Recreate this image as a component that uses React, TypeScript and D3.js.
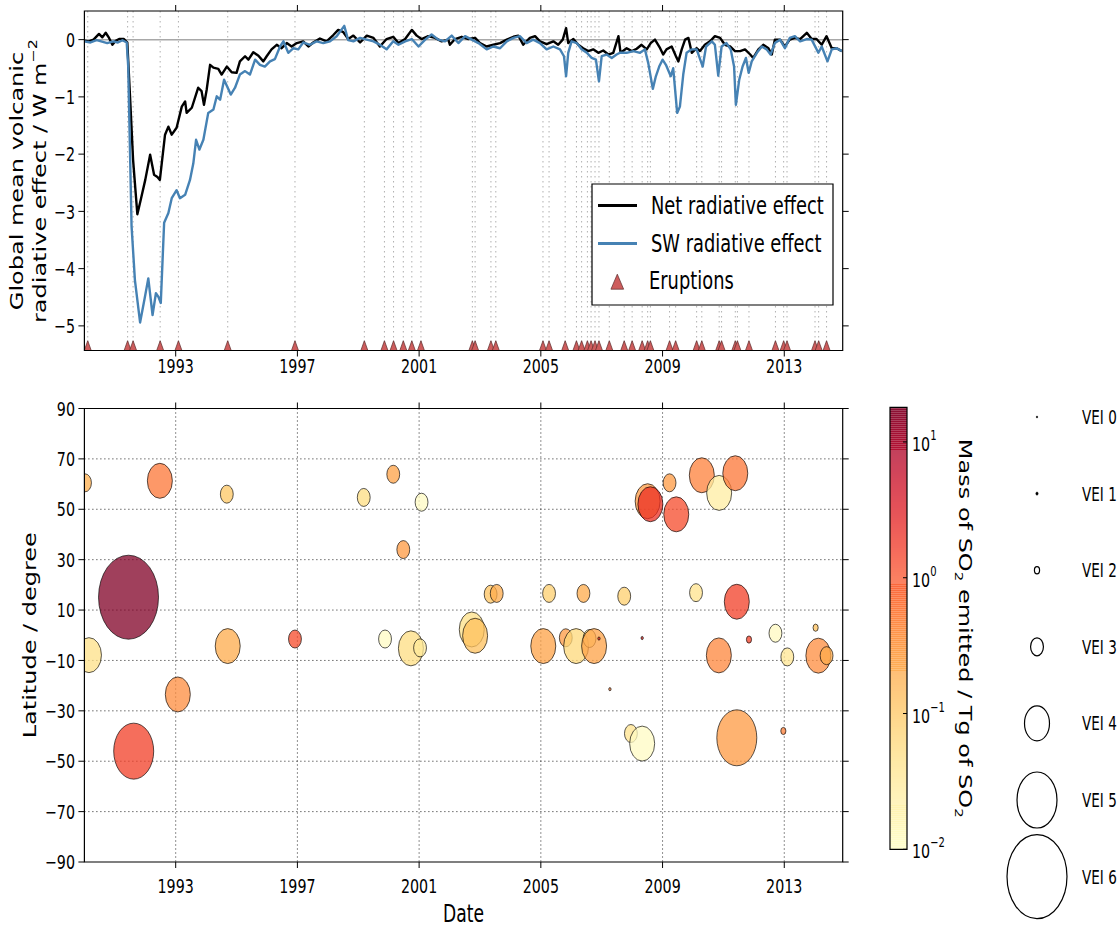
import React, { useEffect, useRef } from "react";
import * as d3 from "d3";

// the original figure is squeezed horizontally; draw in unsqueezed units
const SX = 0.714;
const vx = (x: number) => x / SX;
const FONT = "'DejaVu Sans', Verdana, sans-serif";

// global mean volcanic radiative effect, W m-2 : [decimal year, value]
const netEffect: [number, number][] = [
  [1990.0, -0.02], [1990.15, -0.03], [1990.3, 0.0], [1990.48, 0.1], [1990.59, 0.04], [1990.7, 0.12],
  [1990.81, 0.03], [1990.92, -0.09], [1991.03, -0.02], [1991.14, 0.01], [1991.3, 0.01], [1991.41, -0.05],
  [1991.5, -1.0], [1991.6, -2.1], [1991.74, -3.05], [1991.85, -2.8], [1992.0, -2.45], [1992.16, -2.01],
  [1992.29, -2.36], [1992.4, -2.4], [1992.48, -2.45], [1992.65, -1.66], [1992.76, -1.52], [1992.87, -1.66],
  [1993.03, -1.54], [1993.2, -1.17], [1993.31, -1.08], [1993.36, -1.28], [1993.53, -1.19], [1993.74, -0.84],
  [1993.85, -0.9], [1993.93, -1.14], [1994.02, -0.87], [1994.13, -0.44], [1994.24, -0.49], [1994.4, -0.51],
  [1994.51, -0.61], [1994.68, -0.47], [1994.84, -0.57], [1995.0, -0.58], [1995.11, -0.38], [1995.28, -0.29],
  [1995.39, -0.35], [1995.55, -0.22], [1995.72, -0.28], [1995.88, -0.38], [1995.99, -0.29], [1996.15, -0.17],
  [1996.32, -0.09], [1996.48, -0.15], [1996.65, -0.06], [1996.81, -0.12], [1996.98, -0.06], [1997.19, -0.03],
  [1997.36, -0.12], [1997.52, -0.05], [1997.74, 0.02], [1997.96, -0.03], [1998.18, 0.08], [1998.34, 0.17],
  [1998.51, 0.13], [1998.67, 0.01], [1998.84, 0.07], [1999.06, -0.05], [1999.28, 0.07], [1999.5, 0.03],
  [1999.71, -0.12], [1999.93, 0.01], [2000.15, 0.05], [2000.32, -0.06], [2000.54, 0.01], [2000.76, 0.17],
  [2000.92, 0.07], [2001.08, 0.01], [2001.3, 0.06], [2001.52, 0.03], [2001.74, -0.03], [2001.96, 0.0],
  [2002.01, -0.09], [2002.18, 0.01], [2002.4, 0.05], [2002.62, 0.01], [2002.84, 0.03], [2003.0, -0.06],
  [2003.22, -0.12], [2003.44, -0.09], [2003.66, -0.06], [2003.88, 0.0], [2004.1, 0.05], [2004.26, 0.07],
  [2004.42, -0.09], [2004.64, 0.03], [2004.81, 0.06], [2004.97, -0.03], [2005.19, -0.08], [2005.41, -0.03],
  [2005.57, -0.09], [2005.72, 0.0], [2005.83, 0.2], [2005.9, -0.06], [2006.07, 0.01], [2006.23, -0.09],
  [2006.39, -0.15], [2006.56, -0.2], [2006.72, -0.17], [2006.89, -0.23], [2007.05, -0.19], [2007.22, -0.26],
  [2007.38, -0.23], [2007.55, 0.06], [2007.62, -0.23], [2007.82, -0.15], [2007.99, -0.2], [2008.15, -0.16],
  [2008.31, -0.09], [2008.48, -0.17], [2008.61, -0.06], [2008.75, 0.0], [2008.92, -0.15], [2009.02, -0.26],
  [2009.13, -0.17], [2009.3, -0.12], [2009.44, -0.29], [2009.52, -0.38], [2009.63, -0.17], [2009.74, 0.0],
  [2009.85, 0.03], [2009.96, -0.23], [2010.12, -0.15], [2010.23, -0.2], [2010.39, -0.09], [2010.56, -0.03],
  [2010.72, 0.06], [2010.89, 0.03], [2011.05, -0.09], [2011.22, -0.12], [2011.38, -0.2], [2011.55, -0.2],
  [2011.71, -0.17], [2011.88, -0.26], [2011.98, -0.32], [2012.15, -0.17], [2012.31, -0.09], [2012.48, -0.15],
  [2012.59, -0.26], [2012.69, 0.0], [2012.86, 0.0], [2013.02, -0.12], [2013.18, 0.0], [2013.35, 0.03],
  [2013.52, 0.01], [2013.74, 0.12], [2013.9, 0.01], [2014.06, 0.01], [2014.23, -0.09], [2014.39, 0.06],
  [2014.56, -0.15], [2014.72, -0.15], [2014.89, -0.2],
];

const swEffect: [number, number][] = [
  [1990.0, -0.03], [1990.2, -0.05], [1990.4, -0.01], [1990.55, -0.03], [1990.75, -0.06], [1990.95, -0.03],
  [1991.1, -0.05], [1991.25, -0.01], [1991.39, -0.05], [1991.44, -0.47], [1991.55, -3.26], [1991.66, -4.2],
  [1991.83, -4.94], [1991.99, -4.49], [1992.1, -4.17], [1992.24, -4.81], [1992.35, -4.43], [1992.43, -4.49],
  [1992.51, -4.6], [1992.62, -3.2], [1992.76, -3.03], [1992.87, -2.77], [1993.03, -2.63], [1993.14, -2.77],
  [1993.31, -2.71], [1993.47, -2.45], [1993.58, -2.16], [1993.67, -1.75], [1993.78, -1.92], [1993.91, -1.75],
  [1994.07, -1.28], [1994.24, -1.22], [1994.35, -0.99], [1994.46, -1.05], [1994.59, -0.7], [1994.71, -0.84],
  [1994.81, -0.96], [1994.95, -0.84], [1995.11, -0.61], [1995.28, -0.55], [1995.44, -0.61], [1995.61, -0.35],
  [1995.77, -0.44], [1995.93, -0.47], [1996.1, -0.38], [1996.26, -0.34], [1996.43, -0.12], [1996.54, -0.03],
  [1996.7, -0.23], [1996.87, -0.15], [1997.03, -0.17], [1997.19, -0.05], [1997.41, -0.09], [1997.63, -0.03],
  [1997.85, -0.06], [1998.07, -0.03], [1998.29, 0.06], [1998.54, 0.24], [1998.67, -0.01], [1998.84, -0.03],
  [1999.06, 0.03], [1999.28, 0.0], [1999.5, -0.03], [1999.71, -0.09], [1999.93, -0.17], [2000.15, -0.03],
  [2000.32, -0.09], [2000.54, -0.03], [2000.76, 0.01], [2000.98, -0.12], [2001.2, 0.0], [2001.41, 0.09],
  [2001.63, 0.0], [2001.85, -0.03], [2002.07, 0.07], [2002.29, -0.06], [2002.51, 0.06], [2002.73, 0.0],
  [2002.95, -0.06], [2003.22, -0.17], [2003.44, -0.12], [2003.66, -0.15], [2003.88, -0.03], [2004.1, 0.03],
  [2004.31, 0.06], [2004.53, -0.06], [2004.75, 0.0], [2004.97, -0.06], [2005.19, -0.17], [2005.41, -0.12],
  [2005.63, -0.17], [2005.76, -0.29], [2005.83, -0.64], [2005.9, -0.23], [2006.01, -0.03], [2006.18, -0.06],
  [2006.34, -0.17], [2006.51, -0.23], [2006.67, -0.32], [2006.81, -0.35], [2006.91, -0.73], [2007.0, -0.29],
  [2007.16, -0.26], [2007.33, -0.32], [2007.49, -0.26], [2007.6, -0.23], [2007.82, -0.23], [2008.04, -0.2],
  [2008.26, -0.23], [2008.42, -0.17], [2008.53, -0.41], [2008.68, -0.86], [2008.78, -0.64], [2008.89, -0.47],
  [2009.0, -0.35], [2009.11, -0.44], [2009.27, -0.64], [2009.35, -0.5], [2009.48, -1.28], [2009.57, -1.17],
  [2009.68, -0.61], [2009.79, -0.23], [2009.96, -0.17], [2010.12, -0.17], [2010.32, -0.47], [2010.43, -0.12],
  [2010.62, -0.03], [2010.72, -0.09], [2010.83, -0.63], [2010.94, -0.12], [2011.1, -0.06], [2011.24, -0.17],
  [2011.35, -0.47], [2011.41, -1.14], [2011.52, -0.7], [2011.63, -0.47], [2011.74, -0.32], [2011.83, -0.58],
  [2011.93, -0.38], [2012.1, -0.23], [2012.26, -0.12], [2012.42, -0.17], [2012.55, -0.26], [2012.69, -0.06],
  [2012.86, 0.0], [2013.02, -0.15], [2013.18, 0.03], [2013.35, 0.06], [2013.52, -0.03], [2013.74, 0.01],
  [2013.9, 0.0], [2014.12, -0.23], [2014.23, -0.12], [2014.42, -0.38], [2014.56, -0.17], [2014.72, -0.15],
  [2014.89, -0.2],
];

// eruption dates (triangles and dotted lines in the top panel)
const eruptionDates = [
  1990.11, 1991.42, 1991.6, 1992.49, 1993.09, 1994.71, 1996.92, 1999.2, 1999.86, 2000.16, 2000.48,
  2000.76, 2001.06, 2002.75, 2002.84, 2003.36, 2003.52, 2005.07, 2005.27, 2005.8, 2006.17, 2006.34,
  2006.53, 2006.65, 2006.78, 2006.91, 2007.25, 2007.74, 2008.0, 2008.33, 2008.51, 2008.6, 2009.23,
  2009.43, 2010.12, 2010.29, 2010.86, 2010.94, 2011.39, 2011.46, 2011.84, 2012.71, 2012.98, 2013.09,
  2014.01, 2014.13, 2014.39,
];

// eruptions in the lower panel
const volcYear = [
  1990.02, 1990.15, 1991.45, 1991.62, 1992.48, 1993.07, 1994.68, 1994.71, 1996.92, 1999.18, 1999.88,
  2000.15, 2000.48, 2000.73, 2001.08, 2001.03, 2002.73, 2002.84, 2003.35, 2003.55, 2005.08, 2005.27,
  2005.82, 2006.16, 2006.4, 2006.6, 2006.75, 2006.91, 2007.27, 2007.74, 2007.96, 2008.33, 2008.33,
  2008.51, 2008.6, 2009.23, 2009.45, 2010.1, 2010.29, 2010.85, 2010.86, 2011.39, 2011.44, 2011.44,
  2011.84, 2012.71, 2012.97, 2013.1, 2014.03, 2014.12, 2014.39,
];
const volcLat = [
  60.5, -7.9, 15.1, -46, 61.3, -23.5, 56, -4.3, -1.5, 54.7, -1.5,
  63.9, 34, -5.2, 52.8, -5, 2.3, -0.2, 16.3, 16.6, -4.3, 16.6,
  -1, -4.3, 16.6, -1.3, -4.3, -1.3, -21.4, 15.5, -39, -43, -1.1,
  53.2, 52, 60.5, 48, 16.9, 63.5, -8, 56.5, 64.3, 13.3, -40.7,
  -1.7, 0.8, -38, -8.6, 3, -8.1, -8.1,
];
const volcVEI = [
  3, 4, 6, 5, 4, 4, 3, 4, 3, 3, 3,
  3, 3, 4, 3, 3, 4, 4, 3, 3, 4, 3,
  3, 4, 3, 3, 4, 1, 1, 3, 3, 4, 1,
  4, 4, 3, 4, 3, 4, 4, 4, 4, 4, 5,
  2, 3, 2, 3, 2, 4, 3,
];
// Tg of SO2
const volcSO2 = [
  0.18, 0.045, 18, 1.5, 0.6, 0.4, 0.1, 0.2, 1.2, 0.05, 0.012,
  0.25, 0.3, 0.05, 0.012, 0.03, 0.045, 0.12, 0.11, 0.2, 0.25, 0.08,
  0.3, 0.06, 0.2, 0.04, 0.25, 2, 0.5, 0.08, 0.04, 0.012, 2.5,
  0.3, 2, 0.3, 1.2, 0.04, 0.5, 0.45, 0.025, 0.6, 1.5, 0.3,
  1.5, 0.013, 0.5, 0.035, 0.12, 0.4, 0.2,
];

const yearTicks = [1993, 1997, 2001, 2005, 2009, 2013];
const forcingTicks = [0, -1, -2, -3, -4, -5];
const latTicks = [90, 70, 50, 30, 10, -10, -30, -50, -70, -90];
const so2Exponents = [-2, -1, 0, 1];
const veiClasses = [0, 1, 2, 3, 4, 5, 6];
const veiRadius = [1, 1.6, 3.6, 9, 17.5, 28, 42];

const fmt = (n: number) => (n < 0 ? "\u2212" + Math.abs(n) : String(n));

const App = () => {
  const svgRef = useRef<SVGSVGElement>(null);

  useEffect(() => {
    const svg = d3.select(svgRef.current);
    svg.selectAll("*").remove();

    const top = { left: 84.4, right: 842.7, top: 11, bottom: 350.5 };
    const bot = { left: 84.4, right: 842.7, top: 408.5, bottom: 862 };
    const cb = { left: 890, right: 907, top: 407.3, bottom: 849.3 };

    const x = d3.scaleLinear().domain([1990, 2014.92]).range([vx(top.left), vx(top.right)]);
    const yTop = d3.scaleLinear().domain([-5.43, 0.5]).range([top.bottom, top.top]);
    const yLat = d3.scaleLinear().domain([-90, 90]).range([bot.bottom, bot.top]);
    const ySO2 = d3.scaleLog().domain([0.01, 18]).range([cb.bottom, cb.top]);
    const tSO2 = d3.scaleLog().domain([0.01, 18]).range([0, 1]).clamp(true);
    const color = (v: number) => d3.interpolateYlOrRd(tSO2(v));

    const defs = svg.append("defs");
    [["clipTop", top], ["clipBot", bot]].forEach(([id, p]: any) => {
      defs.append("clipPath").attr("id", id).append("rect")
        .attr("x", vx(p.left)).attr("y", p.top)
        .attr("width", vx(p.right) - vx(p.left)).attr("height", p.bottom - p.top);
    });

    const g = svg.append("g").attr("transform", `scale(${SX},1)`).attr("font-family", FONT);
    const nss = (sel: any) => sel.attr("vector-effect", "non-scaling-stroke");

    const frame = (p: any) =>
      nss(g.append("rect").attr("x", vx(p.left)).attr("y", p.top)
        .attr("width", vx(p.right) - vx(p.left)).attr("height", p.bottom - p.top)
        .attr("fill", "none").attr("stroke", "#000").attr("stroke-width", 1.2));

    const ticks = (p: any, ys: any, yVals: number[], labelY: number) => {
      yearTicks.forEach((t) => {
        nss(g.append("line").attr("x1", x(t)).attr("x2", x(t)).attr("y1", p.top - 6).attr("y2", p.top)
          .attr("stroke", "#000"));
        nss(g.append("line").attr("x1", x(t)).attr("x2", x(t)).attr("y1", p.bottom).attr("y2", p.bottom + 6)
          .attr("stroke", "#000"));
        g.append("text").attr("x", x(t)).attr("y", labelY).attr("text-anchor", "middle")
          .attr("font-size", 20).text(String(t));
      });
      yVals.forEach((v) => {
        nss(g.append("line").attr("x1", vx(p.left - 6)).attr("x2", vx(p.left)).attr("y1", ys(v)).attr("y2", ys(v))
          .attr("stroke", "#000"));
        nss(g.append("line").attr("x1", vx(p.right)).attr("x2", vx(p.right + 6)).attr("y1", ys(v)).attr("y2", ys(v))
          .attr("stroke", "#000"));
        g.append("text").attr("x", vx(75)).attr("y", ys(v)).attr("dy", "0.36em").attr("text-anchor", "end")
          .attr("font-size", 20).text(fmt(v));
      });
    };

    // ---------- top panel ----------
    const gt = g.append("g").attr("clip-path", "url(#clipTop)");
    eruptionDates.forEach((d) => {
      nss(gt.append("line").attr("x1", x(d)).attr("x2", x(d)).attr("y1", top.top).attr("y2", top.bottom)
        .attr("stroke", "#b0b0b0").attr("stroke-width", 1).attr("stroke-dasharray", "1.5,3.5"));
    });
    nss(gt.append("line").attr("x1", vx(top.left)).attr("x2", vx(top.right)).attr("y1", yTop(0)).attr("y2", yTop(0))
      .attr("stroke", "#a8a8a8").attr("stroke-width", 1.5));

    const line = d3.line<[number, number]>().x((d) => x(d[0])).y((d) => yTop(d[1]));
    nss(gt.append("path").attr("d", line(netEffect)).attr("fill", "none").attr("stroke", "#000")
      .attr("stroke-width", 2.4).attr("stroke-linejoin", "round"));
    nss(gt.append("path").attr("d", line(swEffect)).attr("fill", "none").attr("stroke", "#4682b4")
      .attr("stroke-width", 2.4).attr("stroke-linejoin", "round"));

    const tri = (cx: number, cy: number, w: number, h: number) =>
      `M${cx},${cy - h / 2}L${cx - w / 2},${cy + h / 2}L${cx + w / 2},${cy + h / 2}Z`;
    eruptionDates.forEach((d) => {
      nss(gt.append("path").attr("d", tri(x(d), yTop(-5.35), 10.5, 10.5))
        .attr("fill", "#cd5c5c").attr("stroke", "#5a2a2a").attr("stroke-width", 0.7));
    });

    frame(top);
    ticks(top, yTop, forcingTicks, 373);

    // legend
    nss(g.append("rect").attr("x", vx(592)).attr("y", 184).attr("width", vx(833) - vx(592)).attr("height", 121)
      .attr("fill", "#fff").attr("stroke", "#000").attr("stroke-width", 1.2));
    [["Net radiative effect", "#000", 205.5], ["SW radiative effect", "#4682b4", 243.5]].forEach(([lab, c, yy]: any) => {
      nss(g.append("line").attr("x1", vx(598)).attr("x2", vx(637)).attr("y1", yy).attr("y2", yy)
        .attr("stroke", c).attr("stroke-width", 3));
      g.append("text").attr("x", vx(651)).attr("y", yy + 8.5).attr("font-size", 25).text(lab);
    });
    nss(g.append("path").attr("d", tri(vx(617.3), 281.7, 17.8, 15))
      .attr("fill", "#cd5c5c").attr("stroke", "#5a2a2a").attr("stroke-width", 0.7));
    g.append("text").attr("x", vx(649)).attr("y", 289.5).attr("font-size", 25).text("Eruptions");

    // y label (two lines)
    const yl = g.append("g").attr("transform", `translate(${vx(23)},181) rotate(-90)`)
      .attr("font-size", 24).attr("text-anchor", "middle");
    yl.append("text").attr("y", 0).text("Global mean volcanic");
    const yl2 = yl.append("text").attr("y", vx(23));
    yl2.append("tspan").text("radiative effect / W m");
    yl2.append("tspan").attr("dy", -12).attr("font-size", 16).text("\u22122");

    // ---------- bottom panel ----------
    yearTicks.forEach((t) => {
      nss(g.append("line").attr("x1", x(t)).attr("x2", x(t)).attr("y1", bot.top).attr("y2", bot.bottom)
        .attr("stroke", "#222").attr("stroke-dasharray", "1,3"));
    });
    latTicks.filter((v) => Math.abs(v) < 90).forEach((v) => {
      nss(g.append("line").attr("x1", vx(bot.left)).attr("x2", vx(bot.right)).attr("y1", yLat(v)).attr("y2", yLat(v))
        .attr("stroke", "#222").attr("stroke-dasharray", "1,3"));
    });

    const gb = g.append("g").attr("clip-path", "url(#clipBot)");
    volcYear.forEach((yr, i) => {
      nss(gb.append("circle").attr("cx", x(yr)).attr("cy", yLat(volcLat[i])).attr("r", veiRadius[volcVEI[i]])
        .attr("fill", color(volcSO2[i])).attr("fill-opacity", 0.75)
        .attr("stroke", "#000").attr("stroke-opacity", 0.65).attr("stroke-width", 1));
    });

    frame(bot);
    ticks(bot, yLat, latTicks, 893);

    g.append("text").attr("x", (vx(bot.left) + vx(bot.right)) / 2).attr("y", 922).attr("text-anchor", "middle")
      .attr("font-size", 24).text("Date");
    g.append("text").attr("transform", `translate(${vx(36)},${(bot.top + bot.bottom) / 2}) rotate(-90)`)
      .attr("text-anchor", "middle").attr("font-size", 24).text("Latitude / degree");

    // ---------- colour bar ----------
    const n = 220;
    const step = (cb.bottom - cb.top) / n;
    d3.range(n).forEach((i) => {
      const yy = cb.top + i * step;
      const v = ySO2.invert(yy + step / 2);
      g.append("rect").attr("x", vx(cb.left)).attr("y", yy).attr("width", vx(cb.right) - vx(cb.left))
        .attr("height", step + 0.4).attr("fill", color(v)).attr("fill-opacity", 0.75)
        .attr("shape-rendering", "crispEdges");
    });
    frame(cb);
    so2Exponents.forEach((e) => {
      const yy = ySO2(Math.pow(10, e));
      nss(g.append("line").attr("x1", vx(cb.right - 4)).attr("x2", vx(cb.right)).attr("y1", yy).attr("y2", yy)
        .attr("stroke", "#000"));
      const t = g.append("text").attr("x", vx(912)).attr("y", yy + 9).attr("font-size", 20);
      t.append("tspan").text("10");
      t.append("tspan").attr("dy", -11).attr("font-size", 14).text(fmt(e));
    });
    const cl = g.append("text").attr("transform", `translate(${vx(959)},${(cb.top + cb.bottom) / 2}) rotate(90)`)
      .attr("text-anchor", "middle").attr("font-size", 24);
    cl.append("tspan").text("Mass of SO");
    cl.append("tspan").attr("dy", 6).attr("font-size", 15).text("2");
    cl.append("tspan").attr("dy", -6).text(" emitted / Tg of SO");
    cl.append("tspan").attr("dy", 6).attr("font-size", 15).text("2");

    // ---------- VEI size legend ----------
    veiClasses.forEach((v, i) => {
      const cy = 417 + i * 76.6;
      nss(g.append("circle").attr("cx", vx(1037)).attr("cy", cy).attr("r", veiRadius[v])
        .attr("fill", v < 2 ? "#000" : "none").attr("stroke", "#000").attr("stroke-width", v < 2 ? 0.5 : 1.2));
      g.append("text").attr("x", vx(1082)).attr("y", cy + 7).attr("font-size", 19).text(`VEI ${v}`);
    });
  }, []);

  return (
    <svg
      ref={svgRef}
      width={1120}
      height={928}
      style={{ position: "absolute", left: 0, top: 0, background: "#fff" }}
    />
  );
};

export default App;
